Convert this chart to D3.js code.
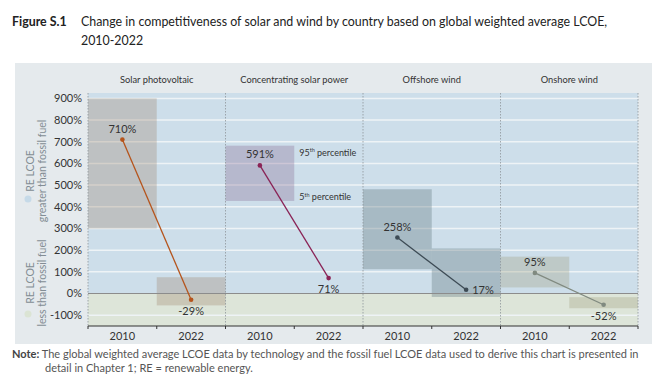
<!DOCTYPE html>
<html>
<head>
<meta charset="utf-8">
<script src="https://cdn.jsdelivr.net/npm/d3@7"></script>
<style>
  body { margin: 0; background: #fff; }
  text { font-family: Lato, "Open Sans", sans-serif; }
</style>
</head>
<body>
<div id="chart"></div>
<script>
// data
var techs = ["Solar photovoltaic", "Concentrating solar power", "Offshore wind", "Onshore wind"];
var years = ["2010", "2022"];
var avg2010 = [710, 591, 258, 95];
var avg2022 = [-29, 71, 17, -52];
var p95_2010 = [900, 682, 481, 170];
var p5_2010 = [300, 427, 112, 28];
var p95_2022 = [75, null, 208, -17];
var p5_2022 = [-55, null, -16, -68];
var yTicks = [-100, 0, 100, 200, 300, 400, 500, 600, 700, 800, 900];

var boxColors = ["rgba(160,135,110,0.32)", "rgba(130,95,140,0.3)", "rgba(100,122,130,0.36)", "rgba(160,158,125,0.32)"];
var lineColors = ["#b5541c", "#8a2356", "#3d4b55", "#808a80"];

var W = 670, H = 390;
var plot = { left: 88, right: 638, top: 93, bottom: 326 };

var svg = d3.select("#chart").append("svg")
  .attr("width", W).attr("height", H);

// title
var title = svg.append("text").attr("x", 12).attr("y", 26)
  .style("font-size", "12.4px").attr("fill", "#222");
title.append("tspan").style("font-weight", "bold").text("Figure S.1");
title.append("tspan").attr("x", 81).text("Change in competitiveness of solar and wind by country based on global weighted average LCOE,");
svg.append("text").attr("x", 81).attr("y", 45)
  .style("font-size", "12.4px").attr("fill", "#222").text("2010-2022");

// panel
svg.append("rect").attr("x", 15).attr("y", 63).attr("width", 637).attr("height", 281)
  .attr("fill", "#e5eaed");

var x = d3.scaleBand().domain(techs).range([plot.left, plot.right]);
var xi = d3.scaleBand().domain(years).range([0, x.bandwidth()]);
var y = d3.scaleLinear().domain([-150, 925]).range([plot.bottom, plot.top]);

// bands
svg.append("rect").attr("x", plot.left).attr("y", plot.top)
  .attr("width", plot.right - plot.left).attr("height", y(0) - plot.top)
  .attr("fill", "#cddeea");
svg.append("rect").attr("x", plot.left).attr("y", y(0))
  .attr("width", plot.right - plot.left).attr("height", plot.bottom - y(0))
  .attr("fill", "#dde5d9");

// gridlines
svg.append("g").selectAll("line").data(yTicks.filter(d => d != 0)).enter()
  .append("line")
  .attr("x1", plot.left).attr("x2", plot.right)
  .attr("y1", d => y(d)).attr("y2", d => y(d))
  .attr("stroke", "#eef3f6").attr("stroke-width", 1.5);

// percentile boxes
var boxes = [];
techs.forEach(function (t, i) {
  boxes.push({ t: t, yr: "2010", hi: p95_2010[i], lo: p5_2010[i], c: boxColors[i] });
  if (p95_2022[i] != null)
    boxes.push({ t: t, yr: "2022", hi: p95_2022[i], lo: p5_2022[i], c: boxColors[i] });
});
svg.append("g").selectAll("rect").data(boxes).enter()
  .append("rect")
  .attr("x", d => x(d.t) + xi(d.yr))
  .attr("width", xi.bandwidth())
  .attr("y", d => y(d.hi))
  .attr("height", d => y(d.lo) - y(d.hi))
  .attr("fill", d => d.c);

// zero line
svg.append("line").attr("x1", plot.left).attr("x2", plot.right)
  .attr("y1", y(0)).attr("y2", y(0))
  .attr("stroke", "#8c8c8c").attr("stroke-width", 1.2);

// column dividers
svg.append("g").selectAll("line").data(techs.concat(["end"])).enter()
  .append("line")
  .attr("x1", (d, i) => i < techs.length ? x(d) : plot.right)
  .attr("x2", (d, i) => i < techs.length ? x(d) : plot.right)
  .attr("y1", plot.top).attr("y2", plot.bottom)
  .attr("stroke", "#8e959a").attr("stroke-width", 0.8)
  .attr("stroke-dasharray", "1.5,1.5");

// column titles
svg.append("g").selectAll("text").data(techs).enter()
  .append("text")
  .attr("x", d => x(d) + x.bandwidth() / 2).attr("y", 83)
  .attr("text-anchor", "middle")
  .style("font-size", "9.3px").attr("fill", "#333")
  .text(d => d);

// y axis labels
svg.append("g").selectAll("text").data(yTicks).enter()
  .append("text")
  .attr("x", 82).attr("y", d => y(d) + 4)
  .attr("text-anchor", "end")
  .style("font-size", "11px").attr("fill", "#333")
  .text(d => d + "%");

// bottom axis
svg.append("line").attr("x1", plot.left).attr("x2", plot.right)
  .attr("y1", plot.bottom).attr("y2", plot.bottom)
  .attr("stroke", "#333").attr("stroke-width", 1.2);
var ticks = [];
techs.forEach(function (t) { years.forEach(function (yr) { ticks.push({ t: t, yr: yr }); }); });
svg.append("g").selectAll("line").data(ticks.concat([null])).enter()
  .append("line")
  .attr("x1", d => d ? x(d.t) + xi(d.yr) : plot.right)
  .attr("x2", d => d ? x(d.t) + xi(d.yr) : plot.right)
  .attr("y1", plot.bottom).attr("y2", plot.bottom + 3)
  .attr("stroke", "#333");
svg.append("g").selectAll("text").data(ticks).enter()
  .append("text")
  .attr("x", d => x(d.t) + xi(d.yr) + xi.bandwidth() / 2)
  .attr("y", plot.bottom + 14)
  .attr("text-anchor", "middle")
  .style("font-size", "11px").attr("fill", "#333")
  .text(d => d.yr);

// lines and points
var cx = (t, yr) => x(t) + xi(yr) + xi.bandwidth() / 2;
var g = svg.append("g");
techs.forEach(function (t, i) {
  g.append("line")
    .attr("x1", cx(t, "2010")).attr("y1", y(avg2010[i]))
    .attr("x2", cx(t, "2022")).attr("y2", y(avg2022[i]))
    .attr("stroke", lineColors[i]).attr("stroke-width", 1.3);
  [["2010", avg2010[i]], ["2022", avg2022[i]]].forEach(function (p) {
    g.append("circle").attr("cx", cx(t, p[0])).attr("cy", y(p[1]))
      .attr("r", 2.3).attr("fill", lineColors[i]);
  });
  // labels
  g.append("text").attr("x", cx(t, "2010")).attr("y", y(avg2010[i]) - 7)
    .attr("text-anchor", "middle").style("font-size", "11px").attr("fill", "#333")
    .text(avg2010[i] + "%");
  var l2 = g.append("text").style("font-size", "11px").attr("fill", "#333")
    .text(avg2022[i] + "%");
  if (t == "Offshore wind")
    l2.attr("x", cx(t, "2022") + 6).attr("y", y(avg2022[i]) + 4);
  else
    l2.attr("x", cx(t, "2022")).attr("y", y(avg2022[i]) + 15).attr("text-anchor", "middle");
});

// percentile annotations
var ann = [["95", p95_2010[1], 10], ["5", p5_2010[1], -0.5]];
ann.forEach(function (a) {
  var tx = svg.append("text")
    .attr("x", x(techs[1]) + xi("2022") + 5).attr("y", y(a[1]) + a[2])
    .style("font-size", "9px").attr("fill", "#333");
  tx.append("tspan").text(a[0]);
  tx.append("tspan").attr("dy", -3.5).style("font-size", "5.5px").text("th");
  tx.append("tspan").attr("dy", 3.5).text(" percentile");
});

// left legend
function legend(cy, dotY, color, l1, l2) {
  svg.append("circle").attr("cx", 28).attr("cy", dotY).attr("r", 3.5).attr("fill", color);
  svg.append("text").attr("transform", "translate(34," + cy + ") rotate(-90)")
    .attr("text-anchor", "middle")
    .style("font-size", "10.5px").attr("fill", "#838d94").text(l1);
  svg.append("text").attr("transform", "translate(46," + cy + ") rotate(-90)")
    .attr("text-anchor", "middle")
    .style("font-size", "10.5px").attr("fill", "#838d94").text(l2);
}
legend(171, 199, "#c6dae8", "RE LCOE", "greater than fossil fuel");
legend(283, 314, "#dbe4d4", "RE LCOE", "less than fossil fuel");

// note
var note = svg.append("text").attr("x", 12).attr("y", 358)
  .style("font-size", "11px").attr("fill", "#555");
note.append("tspan").style("font-weight", "bold").attr("fill", "#444").text("Note:");
note.append("tspan").text(" The global weighted average LCOE data by technology and the fossil fuel LCOE data used to derive this chart is presented in");
svg.append("text").attr("x", 45).attr("y", 372)
  .style("font-size", "11px").attr("fill", "#555")
  .text("detail in Chapter 1; RE = renewable energy.");
</script>
</body>
</html>
